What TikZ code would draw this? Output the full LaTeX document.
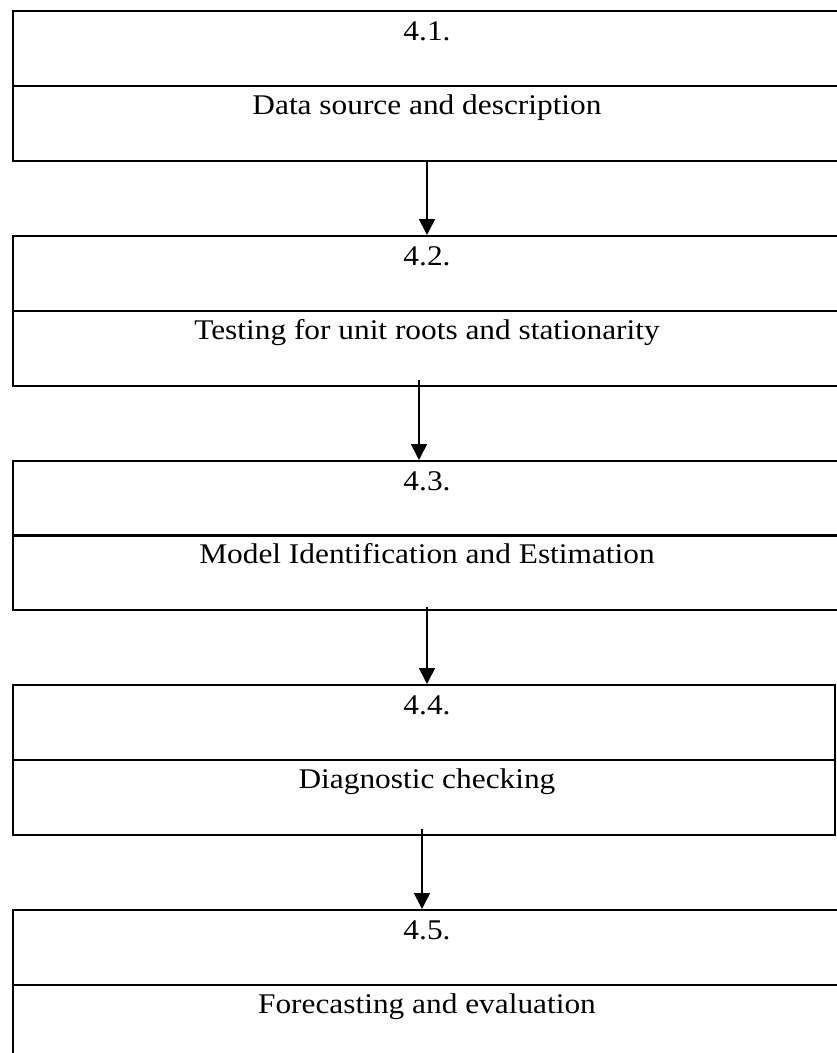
\documentclass[tikz,border=0pt]{standalone}
\usepackage{fontspec}
\setmainfont[FakeStretch=1.1]{Liberation Serif}
\usetikzlibrary{arrows.meta}
\begin{document}
\begin{tikzpicture}[x=1pt,y=-1pt,
  cell/.style={draw,line width=1.9pt,rectangle,anchor=north west,inner sep=0pt,minimum height=75pt,minimum width=833pt},
  lbl/.style={anchor=base,font=\fontsize{28.5}{31}\selectfont,inner sep=0pt},
  flow/.style={line width=1.7pt,-{Triangle[length=16pt,width=16pt]}}]
\useasboundingbox (0,0) rectangle (837,1053);
% boxes
\node[cell] (b1t) at (12,10) {};
\node[cell] (b1b) at (12,85) {};
\node[cell] (b2t) at (12,235) {};
\node[cell] (b2b) at (12,310) {};
\node[cell] (b3t) at (12,460) {};
\node[cell] (b3b) at (12,534) {};
\node[cell,minimum width=822pt] (b4t) at (12,684) {};
\node[cell,minimum width=822pt] (b4b) at (12,759) {};
\node[cell] (b5t) at (12,909) {};
\node[cell] (b5b) at (12,984) {};
% labels
\node[lbl] (t1a) at (427,40) {4.1.};
\node[lbl] (t1b) at (427,114) {Data source and description};
\node[lbl] (t2a) at (427,265) {4.2.};
\node[lbl] (t2b) at (427,339) {Testing for unit roots and stationarity};
\node[lbl] (t3a) at (427,490) {4.3.};
\node[lbl] (t3b) at (427,563) {Model Identification and Estimation};
\node[lbl] (t4a) at (427,714) {4.4.};
\node[lbl] (t4b) at (427,788) {Diagnostic checking};
\node[lbl] (t5a) at (427,939) {4.5.};
\node[lbl] (t5b) at (427,1013) {Forecasting and evaluation};
% arrows
\coordinate (a1) at (427,160);
\coordinate (a2) at (419,380);
\coordinate (a3) at (427,607);
\coordinate (a4) at (422,829);
\draw[flow] (a1) -- (a1 |- b2t.north);
\draw[flow] (a2) -- (a2 |- b3t.north);
\draw[flow] (a3) -- (a3 |- b4t.north);
\draw[flow] (a4) -- (a4 |- b5t.north);
\end{tikzpicture}
\end{document}
